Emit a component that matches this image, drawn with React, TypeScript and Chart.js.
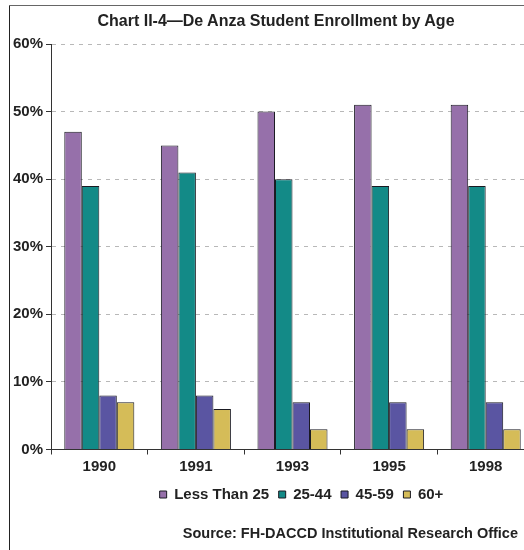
import React, { useEffect, useRef } from "react";
import { Chart, registerables } from "chart.js";

Chart.register(...registerables);

const categories = ["1990", "1991", "1993", "1995", "1998"];
const seriesNames = ["Less Than 25", "25-44", "45-59", "60+"];
const lessThan25 = [47, 45, 50, 51, 51];
const age25to44 = [39, 41, 40, 39, 39];
const age45to59 = [8, 8, 7, 7, 7];
const age60plus = [7, 6, 3, 3, 3];
const seriesColors = ["#9670AA", "#138A87", "#5A55A2", "#D5BC58"];
const yMin = 0;
const yMax = 60;
const yStep = 10;
const titleText = "Chart II-4\u2014De Anza Student Enrollment by Age";
const sourceText = "Source: FH-DACCD Institutional Research Office";

const FONT = "'Liberation Sans', Arial, sans-serif";

const legendShift = {
  id: "legendShift",
  afterLayout(chart: any) {
    const l = chart.legend;
    if (l) {
      l.left += 9;
      l.right += 9;
    }
  },
};

export default function App() {
  const ref = useRef<HTMLCanvasElement>(null);
  useEffect(() => {
    if (!ref.current) return;
    const values = [lessThan25, age25to44, age45to59, age60plus];
    const chart = new Chart(ref.current, {
      type: "bar",
      data: {
        labels: categories,
        datasets: values.map((v, i) => ({
          label: seriesNames[i],
          data: v,
          backgroundColor: seriesColors[i],
          borderColor: "#1a1a22",
          borderWidth: 1,
          barPercentage: 1,
          categoryPercentage: 0.725,
        })),
      },
      options: {
        responsive: false,
        animation: false,
        layout: { padding: { left: 0, right: 11, top: 44, bottom: 38 } },
        plugins: {
          title: { display: false },
          tooltip: { enabled: false },
          legend: {
            display: true,
            position: "bottom",
            fullSize: false,
            labels: {
              boxWidth: 7,
              boxHeight: 7,
              padding: 9.5,
              color: "#222",
              font: { family: FONT, size: 15, weight: "bold" },
            },
          },
        },
        scales: {
          x: {
            afterFit: (s: any) => {
              s.height = 28;
            },
            grid: {
              display: true,
              drawOnChartArea: false,
              drawTicks: true,
              tickLength: 5,
              tickColor: "#333",
              offset: true,
            },
            border: { display: true, color: "#333", width: 1 },
            ticks: {
              color: "#222",
              padding: 3,
              font: { family: FONT, size: 15, weight: "bold" },
            },
          },
          y: {
            min: yMin,
            max: yMax,
            afterFit: (s: any) => {
              s.width = 51;
            },
            grid: {
              color: "#b8b8b8",
              tickColor: "#333",
              tickLength: 5,
              drawTicks: true,
            },
            border: { display: true, color: "#333", width: 1, dash: [4, 5] },
            ticks: {
              stepSize: yStep,
              color: "#222",
              padding: 3,
              font: { family: FONT, size: 15, weight: "bold" },
              callback: (v: any) => v + "%",
            },
          },
        },
      },
      plugins: [legendShift],
    });
    return () => chart.destroy();
  }, []);

  return (
    <div
      style={{
        position: "absolute",
        left: 0,
        top: 0,
        width: 524,
        height: 550,
        overflow: "hidden",
        background: "#fff",
      }}
    >
      <canvas
        ref={ref}
        width={545}
        height={550}
        style={{ position: "absolute", left: 0, top: 0 }}
      />
      <div
        style={{
          position: "absolute",
          left: 9,
          top: 5,
          width: 1,
          height: 545,
          background: "#222",
        }}
      />
      <div
        style={{
          position: "absolute",
          left: 9,
          top: 5,
          width: 515,
          height: 1,
          background: "#666",
        }}
      />
      <div
        style={{
          position: "absolute",
          left: 26,
          top: 11,
          width: 500,
          textAlign: "center",
          font: `bold 16px ${FONT}`,
          lineHeight: "19px",
          color: "#222",
          whiteSpace: "nowrap",
        }}
      >
        {titleText}
      </div>
      <div
        style={{
          position: "absolute",
          right: 6,
          top: 525,
          font: `bold 14.5px ${FONT}`,
          lineHeight: "17px",
          color: "#222",
          whiteSpace: "nowrap",
        }}
      >
        {sourceText}
      </div>
    </div>
  );
}
